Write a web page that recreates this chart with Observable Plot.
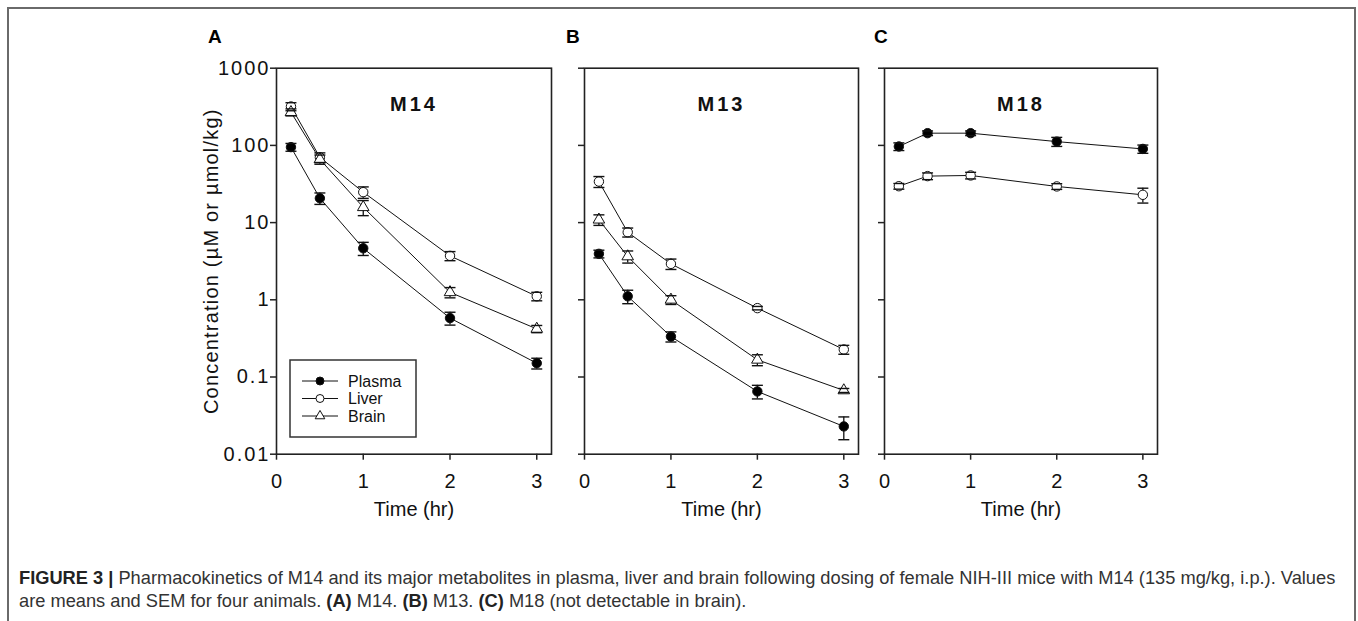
<!DOCTYPE html>
<html>
<head>
<meta charset="utf-8">
<script src="https://cdn.jsdelivr.net/npm/d3@7"></script>
<script src="https://cdn.jsdelivr.net/npm/@observablehq/plot@0.6"></script>
<style>
  body { margin: 0; background: #fff; }
  #fig { position: relative; width: 1358px; height: 621px; overflow: hidden; font-family: "Liberation Sans", Arial, sans-serif; background: #fff; }
  #border { position: absolute; left: 7px; top: 7px; width: 1349px; height: 700px; border: 2px solid #6a6a6a; box-sizing: border-box; }
  .panel { position: absolute; }
  .plabel { position: absolute; font-weight: bold; font-size: 19px; line-height: 1; color: #000; }
  #legend { position: absolute; left: 290px; top: 360px; }
  #caption { position: absolute; left: 19px; top: 566px; font-size: 18.25px; line-height: 23px; color: #333; white-space: nowrap; }
  #caption b { color: #222; }
</style>
</head>
<body>
<div id="fig">
  <div id="border"></div>
  <div class="plabel" style="left:208px;top:27px;">A</div>
  <div class="plabel" style="left:566px;top:27px;">B</div>
  <div class="plabel" style="left:874px;top:27px;">C</div>
  <div id="caption"><b>FIGURE 3 |</b> Pharmacokinetics of M14 and its major metabolites in plasma, liver and brain following dosing of female NIH-III mice with M14 (135 mg/kg, i.p.). Values<br>are means and SEM for four animals. <b>(A)</b> M14. <b>(B)</b> M13. <b>(C)</b> M18 (not detectable in brain).</div>
</div>
<script>
// ---------- data ----------
const times = [1/6, 0.5, 1, 2, 3];
const xTicks = [0, 1, 2, 3];
const yTicks = [0.01, 0.1, 1, 10, 100, 1000];
const seriesNames = ["Plasma", "Liver", "Brain"];
const panelTitles = ["M14", "M13", "M18"];
const xLabel = "Time (hr)";
const yLabel = "Concentration (µM or µmol/kg)";

// M14
const m14Plasma    = [95, 20.7, 4.65, 0.58, 0.151];
const m14PlasmaSem = [11, 3.5, 0.9, 0.11, 0.024];
const m14Liver     = [319, 70, 24.8, 3.71, 1.11];
const m14LiverSem  = [38, 10, 4.2, 0.5, 0.14];
const m14Brain     = [269, 66, 15.8, 1.25, 0.42];
const m14BrainSem  = [28, 9, 3.5, 0.19, 0.045];
// M13
const m13Plasma    = [3.94, 1.11, 0.334, 0.065, 0.0229];
const m13PlasmaSem = [0.45, 0.22, 0.05, 0.013, 0.0075];
const m13Liver     = [34, 7.5, 2.92, 0.78, 0.227];
const m13LiverSem  = [5.5, 1.0, 0.45, 0.04, 0.03];
const m13Brain     = [10.9, 3.64, 1.0, 0.167, 0.067];
const m13BrainSem  = [1.7, 0.65, 0.13, 0.027, 0.004];
// M18 (not detectable in brain)
const m18Plasma    = [96.8, 144, 144, 112, 90];
const m18PlasmaSem = [11, 10, 10, 15, 11];
const m18Liver     = [29.6, 40, 40.8, 29.4, 22.9];
const m18LiverSem  = [2.5, 4, 4, 2.5, 5];

// ---------- styles ----------
const seriesStyle = {
  Plasma: {symbol: "circle", fill: "#000"},
  Liver:  {symbol: "circle", fill: "#fff"},
  Brain:  {symbol: "triangle", fill: "#fff"}
};
const ink = "#111";
const capSymbol = { draw(ctx) { ctx.moveTo(-5.5, 0); ctx.lineTo(5.5, 0); } };

function rowsFor(name, vals, sems) {
  return times.map((t, i) => ({series: name, t, v: vals[i], lo: vals[i] - sems[i], hi: vals[i] + sems[i]}));
}

function makePanel({title, series, showY, left, width, mLeft, mRight}) {
  const marks = [];
  for (const s of series) {
    marks.push(Plot.line(s.rows, {x: "t", y: "v", stroke: ink, strokeWidth: 1}));
  }
  for (const s of series) {
    marks.push(Plot.ruleX(s.rows, {x: "t", y1: "lo", y2: "hi", stroke: ink, strokeWidth: 1.3}));
  }
  for (const s of series) {
    const st = seriesStyle[s.name];
    marks.push(Plot.dot(s.rows, {x: "t", y: "v", symbol: st.symbol, r: st.symbol === "triangle" ? 4.3 : 4.7, fill: st.fill, stroke: ink, strokeWidth: 1}));
  }
  for (const s of series) {
    marks.push(Plot.dot(s.rows, {x: "t", y: "lo", symbol: capSymbol, stroke: ink, strokeWidth: 1.4, fill: "none"}));
    marks.push(Plot.dot(s.rows, {x: "t", y: "hi", symbol: capSymbol, stroke: ink, strokeWidth: 1.4, fill: "none"}));
  }
  marks.push(Plot.frame({stroke: "#222", strokeWidth: 1.6}));
  marks.push(Plot.axisX(xTicks, {tickSize: 6, tickPadding: 14, label: null, stroke: "#222", strokeWidth: 1.5, fill: ink, fontSize: 20}));
  marks.push(Plot.axisY(yTicks, showY
    ? {tickSize: 6, tickPadding: 0, tickFormat: d => String(d), label: null, stroke: "#222", strokeWidth: 1.5, fill: ink, fontSize: 20}
    : {tickSize: 6, tickFormat: () => "", label: null, stroke: "#222", strokeWidth: 1.5, fill: "none"}));
  marks.push(Plot.text([title], {text: d => d, frameAnchor: "top", dy: 29, fontSize: 20, fontWeight: "bold", fill: ink}));
  marks.push(Plot.text([xLabel], {text: d => d, frameAnchor: "bottom", dy: 62, fontSize: 20, fill: ink}));
  if (showY) {
    marks.push(Plot.text([yLabel], {text: d => d, frameAnchor: "left", textAnchor: "middle", dx: -65, rotate: -90, fontSize: 20, fill: ink}));
  }
  const svg = Plot.plot({
    width, height: 490,
    marginLeft: mLeft, marginRight: mRight, marginTop: 17.7, marginBottom: 86.3,
    x: {domain: [0, 3.17]},
    y: {type: "log", domain: [0.01, 1000]},
    style: {fontFamily: "'Liberation Sans', Arial, sans-serif", fontSize: "20px", color: ink, background: "transparent", overflow: "visible"},
    marks
  });
  svg.classList.add("panel");
  svg.style.left = left + "px";
  svg.style.top = "50px";
  svg.style.position = "absolute";
  // letter spacing as in the original rendering
  svg.querySelectorAll("text").forEach(t => {
    if (t.textContent === title) t.setAttribute("letter-spacing", "3");
    if (t.textContent === yLabel) t.setAttribute("letter-spacing", "1.2");
  });
  svg.querySelectorAll('g[aria-label="y-axis tick label"] text').forEach(t => t.setAttribute("letter-spacing", "2"));
  document.getElementById("fig").appendChild(svg);
}

makePanel({
  title: panelTitles[0], showY: true, left: 190, width: 370, mLeft: 86, mRight: 9,
  series: [
    {name: "Plasma", rows: rowsFor("Plasma", m14Plasma, m14PlasmaSem)},
    {name: "Liver",  rows: rowsFor("Liver",  m14Liver,  m14LiverSem)},
    {name: "Brain",  rows: rowsFor("Brain",  m14Brain,  m14BrainSem)}
  ]
});
makePanel({
  title: panelTitles[1], showY: false, left: 560, width: 310, mLeft: 24, mRight: 12,
  series: [
    {name: "Plasma", rows: rowsFor("Plasma", m13Plasma, m13PlasmaSem)},
    {name: "Liver",  rows: rowsFor("Liver",  m13Liver,  m13LiverSem)},
    {name: "Brain",  rows: rowsFor("Brain",  m13Brain,  m13BrainSem)}
  ]
});
makePanel({
  title: panelTitles[2], showY: false, left: 860, width: 310, mLeft: 24, mRight: 13,
  series: [
    {name: "Plasma", rows: rowsFor("Plasma", m18Plasma, m18PlasmaSem)},
    {name: "Liver",  rows: rowsFor("Liver",  m18Liver,  m18LiverSem)}
  ]
});

// ---------- legend (inside panel A) ----------
const lg = d3.create("svg").attr("id", "legend").attr("width", 128).attr("height", 79)
  .style("position", "absolute").style("left", "289px").style("top", "359px");
lg.append("rect").attr("x", 1).attr("y", 1).attr("width", 126).attr("height", 77)
  .attr("fill", "#fff").attr("stroke", "#333").attr("stroke-width", 1.5);
seriesNames.forEach((name, i) => {
  const y = 22 + i * 17.5;
  const st = seriesStyle[name];
  const g = lg.append("g");
  g.append("line").attr("x1", 13).attr("x2", 49).attr("y1", y).attr("y2", y).attr("stroke", ink).attr("stroke-width", 1);
  const sym = st.symbol === "triangle" ? d3.symbolTriangle : d3.symbolCircle;
  g.append("path").attr("d", d3.symbol(sym, st.symbol === "triangle" ? 40 : 50)()).attr("transform", `translate(31,${y})`)
    .attr("fill", st.fill).attr("stroke", ink).attr("stroke-width", 1);
  g.append("text").attr("x", 59).attr("y", y).attr("dy", "0.35em").attr("font-size", 16)
    .attr("font-family", "'Liberation Sans', Arial, sans-serif").attr("fill", ink).text(name);
});
document.getElementById("fig").appendChild(lg.node());
</script>
</body>
</html>
